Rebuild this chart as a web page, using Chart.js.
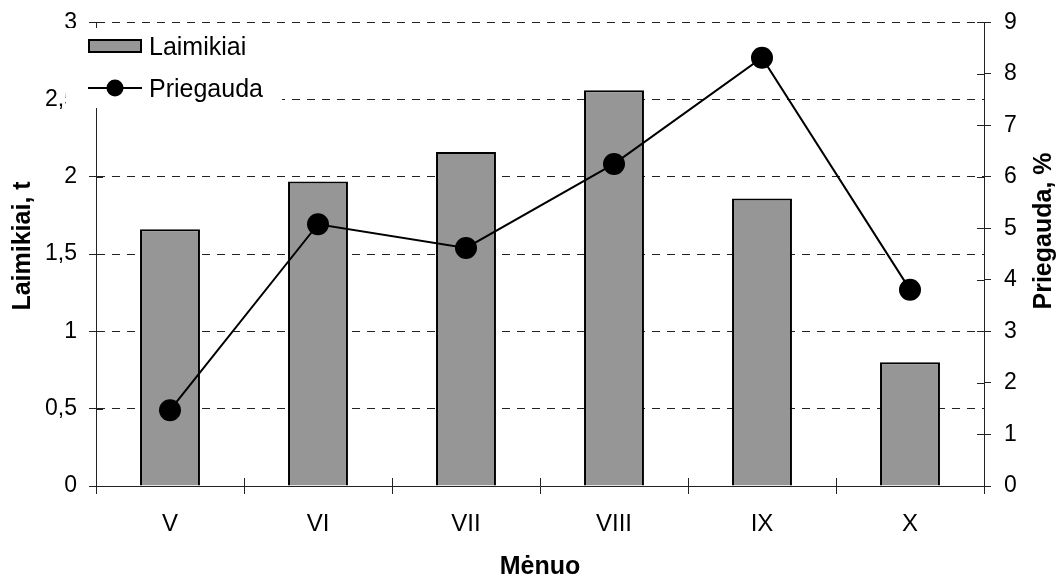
<!DOCTYPE html>
<html><head><meta charset="utf-8">
<script src="https://cdn.jsdelivr.net/npm/chart.js@4/dist/chart.umd.min.js"></script>
<style>html,body{margin:0;padding:0;background:#fff;overflow:hidden}#wrap{width:1062px;height:577px;position:relative}</style>
</head><body><div id="wrap"><canvas id="c" width="1062" height="577"></canvas></div>
<script>
const months = ['V', 'VI', 'VII', 'VIII', 'IX', 'X'];
const laimikiai = [1.66, 1.97, 2.16, 2.56, 1.86, 0.80];
const priegauda = [1.47, 5.08, 4.62, 6.25, 8.31, 3.81];
const leftTicks = [0, 0.5, 1, 1.5, 2, 2.5, 3];
const rightTicks = [0, 1, 2, 3, 4, 5, 6, 7, 8, 9];
const seriesNames = ['Laimikiai', 'Priegauda'];
const axisTitles = { left: 'Laimikiai, t', right: 'Priegauda, %', bottom: 'Mėnuo' };

const FAMILY = "'Liberation Sans', Arial, sans-serif";
Chart.defaults.font.family = FAMILY;
Chart.defaults.font.size = 23;
Chart.defaults.color = '#000';

const LINE = '#222';

const crossTicks = {
  id: 'crossTicks',
  afterDraw(chart) {
    const ctx = chart.ctx, a = chart.chartArea;
    const ys = chart.scales.y, yr = chart.scales.y1, xs = chart.scales.x;
    ctx.save();
    ctx.strokeStyle = LINE; ctx.lineWidth = 1;
    ctx.beginPath();
    leftTicks.forEach(v => { const p = Math.round(ys.getPixelForValue(v)) + 0.5; ctx.moveTo(a.left, p); ctx.lineTo(a.left + 7, p); });
    rightTicks.forEach(v => { const p = Math.round(yr.getPixelForValue(v)) + 0.5; ctx.moveTo(a.right - 7, p); ctx.lineTo(a.right, p); });
    const step = xs.getPixelForValue(1) - xs.getPixelForValue(0);
    for (let i = 0; i <= months.length; i++) {
      const p = Math.round(xs.getPixelForValue(0) - step / 2 + i * step) + 0.5;
      ctx.moveTo(p, a.bottom); ctx.lineTo(p, a.bottom - 8);
    }
    ctx.stroke();
    ctx.restore();
  }
};

const sideTitles = {
  id: 'sideTitles',
  afterDraw(chart) {
    const ctx = chart.ctx;
    ctx.save();
    ctx.fillStyle = '#000';
    ctx.font = "bold 25px " + FAMILY;
    ctx.textAlign = 'center'; ctx.textBaseline = 'middle';
    ctx.translate(23, 246); ctx.rotate(-Math.PI / 2); ctx.fillText(axisTitles.left, 0, 0);
    ctx.restore();
    ctx.save();
    ctx.fillStyle = '#000';
    ctx.font = "bold 25px " + FAMILY;
    ctx.textAlign = 'center'; ctx.textBaseline = 'middle';
    ctx.translate(1044, 231); ctx.rotate(-Math.PI / 2); ctx.fillText(axisTitles.right, 0, 0);
    ctx.restore();
  }
};

const boxLegend = {
  id: 'boxLegend',
  afterDraw(chart) {
    const ctx = chart.ctx, ds = chart.data.datasets;
    ctx.save();
    ctx.fillStyle = '#fff';
    ctx.fillRect(66, 28, 216, 80);
    ctx.fillStyle = ds[0].backgroundColor; ctx.strokeStyle = '#000'; ctx.lineWidth = 2;
    ctx.fillRect(89, 40, 52, 12); ctx.strokeRect(89, 40, 52, 12);
    ctx.beginPath(); ctx.moveTo(88, 88); ctx.lineTo(142, 88); ctx.lineWidth = 2; ctx.stroke();
    ctx.beginPath(); ctx.arc(115, 88, 8.5, 0, Math.PI * 2); ctx.fillStyle = '#000'; ctx.fill();
    ctx.fillStyle = '#000';
    ctx.font = "25px " + FAMILY;
    ctx.textBaseline = 'middle'; ctx.textAlign = 'left';
    ctx.fillText(ds[0].label, 149, 48);
    ctx.fillText(ds[1].label, 149, 90);
    ctx.restore();
  }
};

const fmt = v => String(v).replace('.', ',');

new Chart(document.getElementById('c'), {
  data: {
    labels: months,
    datasets: [
      { type: 'bar', label: seriesNames[0], data: laimikiai, yAxisID: 'y', order: 1,
        backgroundColor: '#969696', borderColor: '#000', borderWidth: 2,
        categoryPercentage: 1, barPercentage: 0.405 },
      { type: 'line', label: seriesNames[1], data: priegauda, yAxisID: 'y1', order: 0,
        borderColor: '#000', borderWidth: 2, tension: 0, fill: false,
        pointRadius: 11, pointBackgroundColor: '#000', pointBorderColor: '#000', pointBorderWidth: 0 }
    ]
  },
  options: {
    responsive: false,
    animation: false,
    events: [],
    layout: { padding: { top: 21, left: 0, right: 0, bottom: 0 } },
    plugins: { legend: { display: false }, tooltip: { enabled: false } },
    scales: {
      x: {
        type: 'category',
        grid: { offset: true, drawOnChartArea: false, drawTicks: true, tickLength: 8, color: LINE },
        border: { display: true, color: LINE, width: 1 },
        ticks: { padding: 16, color: '#000', font: { size: 24 } },
        title: { display: true, text: axisTitles.bottom, color: '#000', font: { size: 25, weight: 'bold', lineHeight: 0.8 }, padding: { top: 0, bottom: 0 } },
        afterFit(s) { s.height = 91; }
      },
      y: {
        type: 'linear', position: 'left', min: 0, max: 3,
        afterBuildTicks(s) { s.ticks = leftTicks.map(v => ({ value: v })); },
        grid: { color: LINE, lineWidth: 1, drawTicks: true, tickLength: 7, tickColor: LINE },
        border: { display: true, color: LINE, width: 1, dash: [8, 7] },
        ticks: { padding: 12, color: '#000', font: { size: 23, lineHeight: 0.8 }, callback: v => fmt(v) },
        afterFit(s) { s.width = 96; }
      },
      y1: {
        type: 'linear', position: 'right', min: 0, max: 9,
        afterBuildTicks(s) { s.ticks = rightTicks.map(v => ({ value: v })); },
        grid: { drawOnChartArea: false, drawTicks: true, tickLength: 7, color: LINE },
        border: { display: true, color: LINE, width: 1 },
        ticks: { padding: 13, color: '#000', font: { size: 23, lineHeight: 0.8 }, callback: v => fmt(v) },
        afterFit(s) { s.width = 78; }
      }
    }
  },
  plugins: [crossTicks, sideTitles, boxLegend]
});
</script>
</body></html>
